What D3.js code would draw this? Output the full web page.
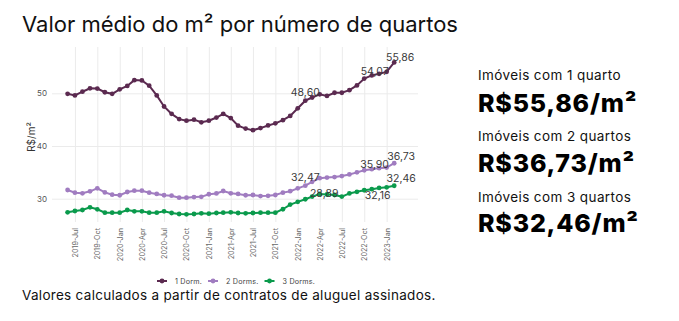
<!DOCTYPE html>
<html>
<head>
<meta charset="utf-8">
<script src="https://cdn.jsdelivr.net/npm/d3@7"></script>
<style>
  body { margin: 0; background: #fff; }
  svg { font-family: Inter, "DejaVu Sans", sans-serif; display: block; }
</style>
</head>
<body>
<svg width="679" height="321"></svg>
<script>
const months = [
  '2019-06', '2019-07', '2019-08', '2019-09', '2019-10', '2019-11', '2019-12',
  '2020-01', '2020-02', '2020-03', '2020-04', '2020-05', '2020-06', '2020-07', '2020-08', '2020-09', '2020-10', '2020-11', '2020-12',
  '2021-01', '2021-02', '2021-03', '2021-04', '2021-05', '2021-06', '2021-07', '2021-08', '2021-09', '2021-10', '2021-11', '2021-12',
  '2022-01', '2022-02', '2022-03', '2022-04', '2022-05', '2022-06', '2022-07', '2022-08', '2022-09', '2022-10', '2022-11', '2022-12',
  '2023-01', '2023-02'
]
const dorm1 = [49.9, 49.6, 50.3, 50.95, 50.9, 50.2, 49.9, 50.75, 51.4, 52.5, 52.45, 51.45, 49.6, 47.5, 46.1, 45.1, 44.8, 45.0, 44.5, 44.8,
  45.4, 46.1, 45.3, 43.85, 43.3, 43.0, 43.4, 43.9, 44.3, 44.9, 45.7, 47.15, 48.6, 49.2, 49.8, 49.5, 50.1, 50.1, 50.6, 51.5,
  52.8, 53.4, 53.7, 54.07, 55.86]
const dorm2 = [31.65, 31.14, 31.02, 31.4, 31.97, 31.2, 30.76, 30.65, 31.27, 31.52, 31.52, 31.14, 30.9, 30.65, 30.57, 30.19, 30.19, 30.3, 30.35, 30.84,
  31.0, 31.46, 31.02, 30.9, 30.65, 30.7, 30.5, 30.55, 30.7, 31.15, 31.42, 31.97, 32.47, 33.2, 33.9, 34.0, 34.1, 34.3, 34.6, 35.0,
  35.4, 35.6, 35.8, 35.9, 36.73]
const dorm3 = [27.42, 27.67, 27.86, 28.37, 27.99, 27.34, 27.34, 27.34, 27.86, 27.61, 27.61, 27.34, 27.34, 27.61, 27.29, 27.1, 27.04, 27.1, 27.23, 27.15,
  27.29, 27.34, 27.42, 27.29, 27.23, 27.29, 27.34, 27.34, 27.34, 28.0, 28.89, 29.4, 29.9, 30.4, 30.9, 30.8, 30.7, 30.4, 31.0, 31.3,
  31.6, 31.8, 32.05, 32.16, 32.46]
const seriesNames = ['1 Dorm.', '2 Dorms.', '3 Dorms.']
const tickLabels = ['2019-Jul', '2019-Oct', '2020-Jan', '2020-Apr', '2020-Jul', '2020-Oct', '2021-Jan', '2021-Apr',
  '2021-Jul', '2021-Oct', '2022-Jan', '2022-Apr', '2022-Jul', '2022-Oct', '2023-Jan']
const yTicks = [30, 40, 50]
// which point of which series carries a value label
const labelSeries = [0, 0, 0, 1, 1, 1, 2, 2, 2]
const labelMonth = ['2022-02', '2023-01', '2023-02', '2022-02', '2023-01', '2023-02', '2021-12', '2023-01', '2023-02']
const sideLabels = ['Imóveis com 1 quarto', 'Imóveis com 2 quartos', 'Imóveis com 3 quartos']
const sideValues = ['R$55,86/m²', 'R$36,73/m²', 'R$32,46/m²']

const colors = ['#5b2a50', '#a07cc0', '#0a9a4c']
// label nudges (px) relative to the point, like ggrepel placed them
const labelNudge = [[0, -8], [-12, 0], [6, -5], [0, -8], [-12, -3], [7, -7], [34, -11], [-9, 8], [7, -7]]

const svg = d3.select('svg')
const parseMonth = d3.timeParse('%Y-%m')
const parseTick = d3.timeParse('%Y-%b')

const panel = { left: 52, right: 418, top: 47, bottom: 222 }

const x = d3.scaleTime()
  .domain([parseMonth(months[0]), parseMonth(months[months.length - 1])])
  .range([67.6, 394.2])
const y = d3.scaleLinear().domain([30, 50]).range([198.7, 93.3])

const data = [dorm1, dorm2, dorm3].map((vals, s) => ({
  name: seriesNames[s],
  color: colors[s],
  values: vals.map((v, i) => ({ date: parseMonth(months[i]), v }))
}))

// title
svg.append('text')
  .attr('x', 22).attr('y', 32)
  .attr('font-size', 22)
  .attr('fill', '#111')
  .text('Valor médio do m² por número de quartos')

// axes + grid
const yAxis = d3.axisLeft(y).tickValues(yTicks).tickSize(-(panel.right - panel.left)).tickPadding(5)
const gy = svg.append('g').attr('transform', `translate(${panel.left},0)`).call(yAxis)
gy.select('.domain').remove()
gy.selectAll('line').attr('stroke', '#ebebeb')
gy.selectAll('text').attr('fill', '#555').attr('font-size', 8).attr('font-family', 'Inter, sans-serif')

const xAxis = d3.axisBottom(x)
  .tickValues(tickLabels.map(parseTick))
  .tickFormat(d3.timeFormat('%Y-%b'))
  .tickSize(-(panel.bottom - panel.top))
const gx = svg.append('g').attr('transform', `translate(0,${panel.bottom})`).call(xAxis)
gx.select('.domain').remove()
gx.selectAll('line').attr('stroke', '#ebebeb')
gx.selectAll('text')
  .attr('transform', 'rotate(-90)')
  .attr('text-anchor', 'end')
  .attr('x', -6).attr('y', 0).attr('dy', '0.35em')
  .attr('fill', '#666').attr('font-size', 7.2).attr('font-family', 'Inter, sans-serif')

svg.append('text')
  .attr('transform', `translate(31,137) rotate(-90)`)
  .attr('text-anchor', 'middle')
  .attr('dominant-baseline', 'central')
  .attr('font-size', 10).attr('fill', '#333')
  .text('R$/m²')

// lines + points
const line = d3.line().x(d => x(d.date)).y(d => y(d.v))
const series = svg.append('g').selectAll('g').data(data).join('g')
series.append('path')
  .attr('d', d => line(d.values))
  .attr('fill', 'none')
  .attr('stroke', d => d.color)
  .attr('stroke-width', 2)
series.selectAll('circle').data(d => d.values.map(p => ({ ...p, color: d.color }))).join('circle')
  .attr('cx', d => x(d.date)).attr('cy', d => y(d.v))
  .attr('r', 2.4)
  .attr('fill', d => d.color)

// value labels
svg.append('g').selectAll('text').data(labelSeries).join('text')
  .each(function (s, i) {
    const idx = months.indexOf(labelMonth[i])
    const p = data[s].values[idx]
    d3.select(this)
      .attr('x', x(p.date) + labelNudge[i][0])
      .attr('y', y(p.v) + labelNudge[i][1])
      .attr('text-anchor', 'middle')
      .attr('dominant-baseline', 'central')
      .attr('font-size', 10.5)
      .attr('fill', '#3a3a3a')
      .text(d3.format('.2f')(p.v).replace('.', ','))
  })

// legend
const legend = svg.append('g').attr('transform', 'translate(157,281)')
let lx = 0
data.forEach(d => {
  const g = legend.append('g').attr('transform', `translate(${lx},0)`)
  g.append('line').attr('x1', 0).attr('x2', 10).attr('stroke', d.color).attr('stroke-width', 2)
  g.append('circle').attr('cx', 5).attr('r', 2.4).attr('fill', d.color)
  const t = g.append('text').attr('x', 18).attr('dominant-baseline', 'central')
    .attr('font-size', 7.2).attr('letter-spacing', 0.2).attr('fill', '#444').text(d.name)
  lx += 18 + t.node().getComputedTextLength() + 6
})

// right hand summary
const side = svg.append('g').attr('transform', 'translate(478,0)')
sideLabels.forEach((lab, i) => {
  side.append('text').attr('y', 80 + i * 61).attr('font-size', 13.5).attr('letter-spacing', 0.4)
    .attr('fill', '#111').text(lab)
  side.append('text').attr('y', 111.5 + i * 60).attr('font-size', 25).attr('font-weight', 800)
    .attr('letter-spacing', 0.8).attr('fill', '#000').text(sideValues[i])
})

// footnote
svg.append('text')
  .attr('x', 22).attr('y', 300)
  .attr('font-size', 13.5).attr('letter-spacing', 0.3).attr('fill', '#111')
  .text('Valores calculados a partir de contratos de aluguel assinados.')
</script>
</body>
</html>
